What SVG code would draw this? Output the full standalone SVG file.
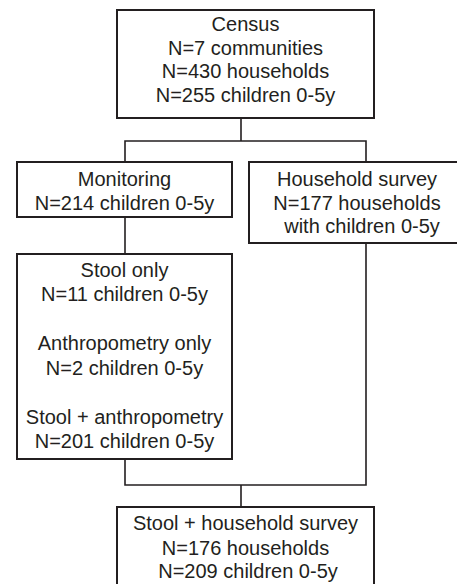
<svg xmlns="http://www.w3.org/2000/svg" width="457" height="584" viewBox="0 0 457 584">
<style>
.box{fill:#fff;stroke:#231f20;stroke-width:2}
.con{fill:none;stroke:#231f20;stroke-width:1.6}
text{font-family:"Liberation Sans",Arial,sans-serif;font-size:20px;fill:#231f20;text-anchor:middle}
</style>
<rect width="457" height="584" fill="#fff"/>
<g id="connectors">
<path class="con" d="M241 118V141M125 162V141H366V162"/>
<path class="con" d="M125 217V254"/>
<path class="con" d="M125 459V485H366V243M241 485V507"/>
</g>
<g id="census">
<rect class="box" x="117" y="10" width="257" height="108"/>
<text x="245.5" y="31">Census</text>
<text x="245.5" y="54.5">N=7 communities</text>
<text x="245.5" y="78">N=430 households</text>
<text x="245.5" y="101.5">N=255 children 0-5y</text>
</g>
<g id="monitoring">
<rect class="box" x="17" y="162" width="215" height="55"/>
<text x="124.5" y="186">Monitoring</text>
<text x="124.5" y="209.5">N=214 children 0-5y</text>
</g>
<g id="household">
<rect class="box" x="249" y="162" width="216" height="81"/>
<text x="357" y="186">Household survey</text>
<text x="357" y="209.5">N=177 households</text>
<text x="362" y="233">with children 0-5y</text>
</g>
<g id="stool">
<rect class="box" x="17" y="254" width="215" height="205"/>
<text x="124.5" y="276.5">Stool only</text>
<text x="124.5" y="301">N=11 children 0-5y</text>
<text x="124.5" y="350">Anthropometry only</text>
<text x="124.5" y="374.5">N=2 children 0-5y</text>
<text x="124.5" y="424">Stool + anthropometry</text>
<text x="124.5" y="448">N=201 children 0-5y</text>
</g>
<g id="final">
<rect class="box" x="117" y="507" width="257" height="90"/>
<text x="245.5" y="530">Stool + household survey</text>
<text x="245.5" y="554.5">N=176 households</text>
<text x="248" y="578">N=209 children 0-5y</text>
</g>
</svg>
